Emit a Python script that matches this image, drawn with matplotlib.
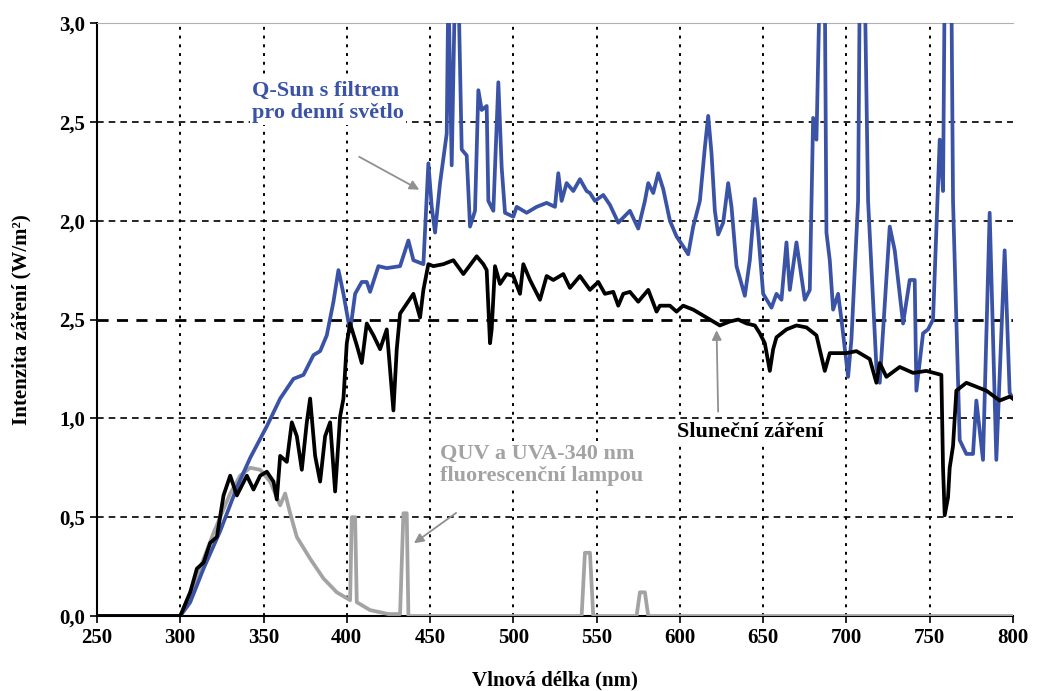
import matplotlib.pyplot as plt

plt.rcParams['font.family'] = ['Liberation Serif', 'DejaVu Serif']
plt.rcParams['font.weight'] = 'bold'

# Q-Sun with daylight filter (blue)
qsun_nm = [250, 300, 306, 314, 324, 334, 342, 352, 360, 368, 374, 380, 384, 388, 392, 395, 398,
           402, 405, 409, 412, 414, 419, 424, 432, 437, 440, 446, 449, 451, 453, 456, 460, 461,
           463, 465, 467, 469, 472, 474, 477, 479, 481, 484, 485, 488, 491, 493, 495, 500, 502,
           508, 514, 520, 525, 527, 529, 532, 536, 540, 544, 546, 549, 554, 558, 563, 570, 575,
           579, 581, 584, 587, 590, 594, 598, 602, 605, 608, 612, 615, 617, 619, 621, 623, 626,
           629, 631, 634, 639, 642, 645, 647, 650, 655, 658, 661, 664, 666, 670, 675, 678, 680,
           682, 684, 687, 688, 690, 692, 695, 697, 701, 703, 707, 708, 711, 713, 718, 720, 726,
           729, 734, 738, 741, 742, 746, 749, 752, 756, 758, 759, 763, 764, 768, 772, 776, 778,
           782, 786, 790, 795, 798, 800]
qsun_val = [0.0, 0.0, 0.07, 0.24, 0.43, 0.65, 0.80, 0.96, 1.10, 1.20, 1.22, 1.32, 1.34, 1.42,
            1.59, 1.75, 1.63, 1.44, 1.63, 1.69, 1.69, 1.64, 1.77, 1.76, 1.77, 1.90, 1.80, 1.78,
            2.29, 2.07, 1.94, 2.19, 2.44, 3.2, 2.28, 3.2, 3.2, 2.36, 2.33, 1.97, 2.05, 2.66, 2.56,
            2.58, 2.10, 2.05, 2.70, 2.27, 2.04, 2.02, 2.07, 2.04, 2.07, 2.09, 2.07, 2.24, 2.10,
            2.19, 2.15, 2.21, 2.15, 2.14, 2.10, 2.13, 2.08, 1.99, 2.05, 1.96, 2.10, 2.19, 2.14,
            2.24, 2.16, 2.00, 1.92, 1.87, 1.83, 1.97, 2.10, 2.37, 2.53, 2.34, 2.05, 1.93, 1.99,
            2.19, 2.07, 1.77, 1.62, 1.80, 2.11, 1.94, 1.63, 1.56, 1.63, 1.60, 1.89, 1.65, 1.89,
            1.60, 1.65, 2.52, 2.41, 3.2, 3.2, 1.94, 1.80, 1.55, 1.63, 1.50, 1.21, 1.40, 2.10, 3.2,
            3.2, 2.10, 1.26, 1.18, 1.97, 1.85, 1.48, 1.70, 1.70, 1.14, 1.43, 1.45, 1.50, 2.41,
            2.15, 3.2, 3.2, 2.10, 0.89, 0.82, 0.82, 1.09, 0.79, 2.04, 0.79, 1.85, 1.13, 1.10]

# Sunlight (black)
sun_nm = [250, 300, 306, 310, 314, 318, 322, 326, 330, 334, 340, 344, 348, 352, 356, 358, 360,
          364, 367, 370, 373, 376, 378, 381, 384, 387, 390, 393, 396, 398, 400, 402, 406, 409,
          412, 416, 420, 424, 428, 430, 432, 436, 440, 444, 446, 449, 452, 458, 464, 470, 478,
          482, 484, 486, 487, 489, 492, 496, 500, 504, 506, 510, 516, 520, 524, 530, 534, 540,
          546, 551, 555, 560, 563, 566, 570, 575, 581, 586, 588, 594, 598, 602, 608, 614, 618,
          624, 630, 635, 640, 645, 648, 651, 654, 656, 658, 664, 670, 676, 682, 687, 690, 700,
          706, 714, 718, 720, 724, 732, 740, 748, 757, 758, 759, 761, 762, 764, 766, 772, 784,
          792, 798, 800]
sun_val = [0.0, 0.0, 0.12, 0.24, 0.27, 0.37, 0.40, 0.61, 0.71, 0.61, 0.71, 0.64, 0.71, 0.73,
           0.68, 0.59, 0.81, 0.78, 0.98, 0.91, 0.74, 0.98, 1.10, 0.81, 0.68, 0.91, 0.98, 0.63,
           1.01, 1.10, 1.38, 1.48, 1.37, 1.28, 1.48, 1.42, 1.35, 1.45, 1.04, 1.35, 1.53, 1.58,
           1.63, 1.51, 1.65, 1.78, 1.77, 1.78, 1.80, 1.73, 1.82, 1.78, 1.75, 1.38, 1.45, 1.77,
           1.68, 1.73, 1.72, 1.63, 1.78, 1.70, 1.60, 1.72, 1.70, 1.73, 1.66, 1.72, 1.65, 1.69,
           1.63, 1.64, 1.57, 1.63, 1.64, 1.59, 1.65, 1.54, 1.57, 1.57, 1.54, 1.57, 1.55, 1.52,
           1.50, 1.47, 1.49, 1.50, 1.48, 1.47, 1.43, 1.38, 1.24, 1.35, 1.41, 1.45, 1.47, 1.46,
           1.42, 1.24, 1.33, 1.33, 1.34, 1.30, 1.18, 1.28, 1.21, 1.26, 1.23, 1.24, 1.22, 0.75,
           0.51, 0.60, 0.75, 0.86, 1.14, 1.18, 1.14, 1.09, 1.11, 1.10]

# QUV with UVA-340 lamp (gray)
quv_nm = [300, 310, 320, 330, 336, 342, 348, 354, 360, 363, 366, 370, 378, 386, 394, 402, 403,
          405, 406, 414, 425, 432, 434, 436, 437, 541, 543, 546, 548, 574, 576, 579, 581, 800]
quv_val = [0.0, 0.20, 0.42, 0.62, 0.71, 0.75, 0.74, 0.68, 0.56, 0.62, 0.52, 0.40, 0.29, 0.19,
           0.12, 0.08, 0.50, 0.50, 0.07, 0.03, 0.01, 0.01, 0.52, 0.52, 0.0, 0.0, 0.32, 0.32, 0.0,
           0.0, 0.12, 0.12, 0.0, 0.0]

xticks = [250, 300, 350, 400, 450, 500, 550, 600, 650, 700, 750, 800]
yticks = [0.0, 0.5, 1.0, 1.5, 2.0, 2.5, 3.0]
ytick_labels = ['0,0', '0,5', '1,0', '2,5', '2,0', '2,5', '3,0']

blue = '#3a53a6'
gray = '#a3a3a3'

fig = plt.figure(figsize=(10.38, 6.91), dpi=100)
ax = fig.add_axes([0.0934, 0.1085, 0.8825, 0.8582])

# grid
for y in yticks:
    lw = 2.0 if y == 1.5 else 1.2
    ax.axhline(y, color='black', lw=lw, ls=(0, (4, 3)), zorder=1)
for x in xticks[1:-1]:
    ax.axvline(x, color='black', lw=1.4, ls=(0, (1.5, 3)), zorder=1)

ax.plot(quv_nm, quv_val, color=gray, lw=2.7, zorder=3)
ax.plot(qsun_nm, qsun_val, color=blue, lw=2.7, zorder=4)
ax.plot(sun_nm, sun_val, color='black', lw=2.7, zorder=5)

ax.set_xlim(250, 800)
ax.set_ylim(0, 3.0)
ax.set_xticks(xticks)
ax.set_yticks(yticks)
ax.set_yticklabels(ytick_labels)
ax.tick_params(labelsize=15, direction='out', length=5, width=1.2)
for lab in ax.get_xticklabels() + ax.get_yticklabels():
    lab.set_fontweight('bold')

ax.spines['right'].set_visible(False)
ax.spines['top'].set_color('#b0b0b0')
ax.spines['left'].set_linewidth(1.5)
ax.spines['bottom'].set_linewidth(1.5)

ax.set_xlabel('Vlnová délka (nm)', fontsize=15, fontweight='bold', labelpad=16)
ax.set_ylabel('Intenzita záření (W/m²)', fontsize=15, fontweight='bold', labelpad=20)

# annotations
box = dict(facecolor='white', edgecolor='none', pad=1.5)
ax.text(343, 2.6, 'Q-Sun s filtrem\npro denní světlo', color=blue, fontsize=16,
        fontweight='bold', va='center', ha='left', linespacing=1.15, bbox=box, zorder=2)
ax.annotate('', xy=(445, 2.15), xytext=(406, 2.33),
            arrowprops=dict(arrowstyle='-|>', color='#909090', lw=1.3, mutation_scale=14))

ax.text(598, 0.93, 'Sluneční záření', color='black', fontsize=16, fontweight='bold',
        va='center', ha='left', bbox=box, zorder=2)
ax.annotate('', xy=(622, 1.46), xytext=(623, 1.02),
            arrowprops=dict(arrowstyle='-|>', color='#909090', lw=1.3, mutation_scale=14))

ax.text(456, 0.765, 'QUV a UVA-340 nm\nfluorescenční lampou', color=gray, fontsize=16,
        fontweight='bold', va='center', ha='left', linespacing=1.15, bbox=box, zorder=2)
ax.annotate('', xy=(439, 0.36), xytext=(467, 0.53),
            arrowprops=dict(arrowstyle='-|>', color='#909090', lw=1.3, mutation_scale=14))

fig.savefig('out.png', dpi=100)
